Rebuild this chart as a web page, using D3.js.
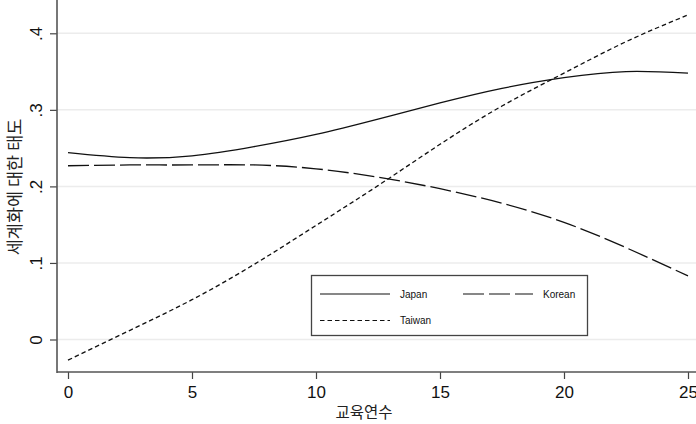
<!DOCTYPE html>
<html>
<head>
<meta charset="utf-8">
<script src="https://cdn.jsdelivr.net/npm/d3@7"></script>
<style>
body { margin: 0; background: #fff; }
text { font-family: "Liberation Sans", Arial, "Noto Sans CJK KR", sans-serif; }
</style>
</head>
<body>
<script>
// education years and predicted attitudes
var years = [0, 2.5, 5, 7.5, 10, 12.5, 15, 17.5, 20, 22.5, 25];
var japan = [0.244, 0.2375, 0.240, 0.252, 0.268, 0.288, 0.309, 0.328, 0.342, 0.350, 0.348];
var korean = [0.227, 0.228, 0.228, 0.228, 0.223, 0.212, 0.197, 0.178, 0.153, 0.120, 0.083];
var taiwan = [-0.027, 0.012, 0.052, 0.098, 0.149, 0.201, 0.255, 0.305, 0.348, 0.389, 0.424];
var xTicks = [0, 5, 10, 15, 20, 25];
var yTicks = [0, 0.1, 0.2, 0.3, 0.4];
var yTickLabels = ["0", ".1", ".2", ".3", ".4"];

var W = 696, H = 424;
var svg = d3.select("body").append("svg")
	.attr("width", W)
	.attr("height", H);

var x = d3.scaleLinear().domain([0, 25]).range([68, 688]);
var y = d3.scaleLinear().domain([0, 0.4]).range([339.5, 33.3]);
var axisX = 57, axisY = 372;

// grid
svg.selectAll("line.grid")
	.data(yTicks)
	.enter().append("line")
		.attr("class", "grid")
		.attr("x1", axisX).attr("x2", W)
		.attr("y1", function(d){ return y(d); })
		.attr("y2", function(d){ return y(d); })
		.attr("stroke", "#ececec")
		.attr("stroke-width", 1.5);

// y axis
var yAxis = d3.axisLeft(y).tickValues(yTicks).tickSize(7)
	.tickFormat(function(d, i){ return yTickLabels[i]; });
var gy = svg.append("g").attr("transform", "translate(" + axisX + ",0)").call(yAxis);
gy.select(".domain").remove();
gy.selectAll(".tick line").attr("stroke", "#444").attr("stroke-width", 1.2);
gy.selectAll(".tick text")
	.attr("x", 0).attr("dy", 0)
	.attr("transform", "translate(-15,0) rotate(-90)")
	.attr("text-anchor", "middle")
	.attr("font-size", 17)
	.attr("fill", "#111");
svg.append("line")
	.attr("x1", axisX).attr("x2", axisX)
	.attr("y1", 0).attr("y2", axisY + 1)
	.attr("stroke", "#555").attr("stroke-width", 1.6);

// x axis
var xAxis = d3.axisBottom(x).tickValues(xTicks).tickSize(7).tickFormat(d3.format("d"));
var gx = svg.append("g").attr("transform", "translate(0," + axisY + ")").call(xAxis);
gx.select(".domain").remove();
gx.selectAll(".tick line").attr("stroke", "#444").attr("stroke-width", 1.2);
gx.selectAll(".tick text")
	.attr("y", 14)
	.attr("font-size", 17)
	.attr("fill", "#111");
svg.append("line")
	.attr("x1", axisX).attr("x2", W)
	.attr("y1", axisY).attr("y2", axisY)
	.attr("stroke", "#555").attr("stroke-width", 1.6);

// titles
svg.append("text")
	.attr("x", 364).attr("y", 418)
	.attr("text-anchor", "middle")
	.attr("font-size", 15.5)
	.style("font-family", "'Noto Sans CJK KR', sans-serif")
	.attr("fill", "#222")
	.text("교육연수");
svg.append("text")
	.attr("transform", "translate(21,187) rotate(-90)")
	.attr("text-anchor", "middle")
	.attr("font-size", 17.5)
	.style("font-family", "'Noto Sans CJK KR', sans-serif")
	.attr("fill", "#222")
	.text("세계화에 대한 태도");

// lines
var series = [
	{ name: "Japan", vals: japan, dash: null },
	{ name: "Korean", vals: korean, dash: "21,5" },
	{ name: "Taiwan", vals: taiwan, dash: "4.5,3" }
];
var line = d3.line()
	.x(function(d){ return x(d[0]); })
	.y(function(d){ return y(d[1]); })
	.curve(d3.curveNatural);
svg.selectAll("path.series")
	.data(series)
	.enter().append("path")
		.attr("class", "series")
		.attr("d", function(s){ return line(years.map(function(v, i){ return [v, s.vals[i]]; })); })
		.attr("fill", "none")
		.attr("stroke", "#111")
		.attr("stroke-width", 1.3)
		.attr("stroke-dasharray", function(s){ return s.dash; });

// legend
var lg = svg.append("g");
lg.append("rect")
	.attr("x", 311.5).attr("y", 275.5)
	.attr("width", 276).attr("height", 60)
	.attr("fill", "#fff")
	.attr("stroke", "#444").attr("stroke-width", 1.3);
var items = [
	{ s: series[0], lx: 320, ly: 294 },
	{ s: series[1], lx: 463, ly: 294 },
	{ s: series[2], lx: 320, ly: 320.5 }
];
items.forEach(function(it){
	lg.append("line")
		.attr("x1", it.lx).attr("x2", it.lx + 70)
		.attr("y1", it.ly).attr("y2", it.ly)
		.attr("stroke", "#111").attr("stroke-width", 1.2)
		.attr("stroke-dasharray", it.s.dash);
	lg.append("text")
		.attr("x", it.lx + 80).attr("y", it.ly + 3.5)
		.attr("font-size", 10)
		.attr("fill", "#111")
		.text(it.s.name);
});
</script>
</body>
</html>
